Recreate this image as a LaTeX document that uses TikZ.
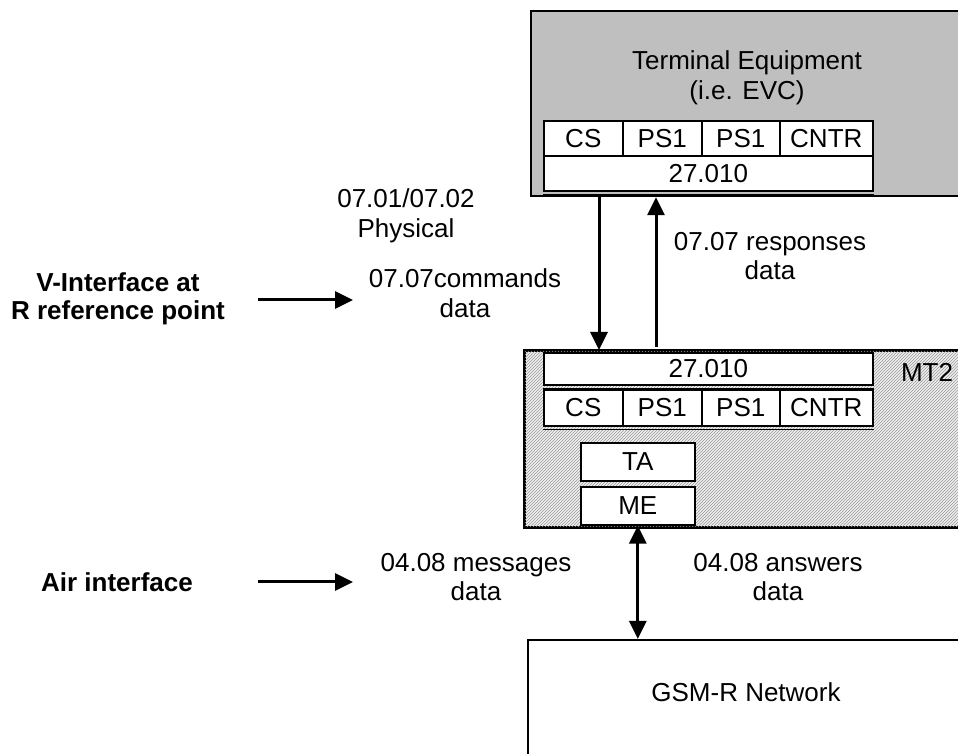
\documentclass[tikz,border=0pt]{standalone}
\usepackage{fontspec}
\setmainfont{Liberation Sans}
\usetikzlibrary{arrows.meta,patterns}
\begin{document}
\begin{tikzpicture}[x=1pt,y=1pt,
  every node/.style={font=\fontsize{26}{29.5}\selectfont},
  bigbox/.style={draw,line width=2.2pt,anchor=north west,inner sep=0pt},
  cell/.style={draw,line width=1.6pt,fill=white,anchor=north west,inner sep=0pt,minimum height=#1},
  cell/.default=35pt,
  lbl/.style={align=center,inner sep=0pt},
  blbl/.style={align=center,inner sep=0pt,font=\fontsize{26}{28}\selectfont\bfseries},
  arr/.style={line width=3pt,-{Triangle[length=18pt,width=17pt]}},
  darr/.style={line width=3pt,{Triangle[length=18pt,width=17pt]}-{Triangle[length=18pt,width=17pt]}},
  thinl/.style={line width=1pt}
]
\clip (0,0) rectangle (958,754);
\fill[white] (0,0) rectangle (958,754);

% Terminal Equipment
\node[bigbox,fill=black!25,minimum width=450pt,minimum height=185pt] (te) at (530,744) {};
\node[lbl] (tetxt) at (747,676) {Terminal Equipment\\(i.e. EVC)};
\node[cell,minimum width=79pt] (t1) at (543,634) {CS};
\node[cell,minimum width=79pt] (t2) at (622,634) {PS1};
\node[cell,minimum width=78pt] (t3) at (701,634) {PS1};
\node[cell,minimum width=93pt] (t4) at (779,634) {CNTR};
\node[cell,minimum width=329pt] (t27) at (543,599) {27.010};
\draw[thinl] ([yshift=-3pt]t27.south west) -- ([yshift=-3pt]t27.south east);

% MT2
\node[bigbox,fill=black!6,minimum width=450pt,minimum height=176pt] (mt) at (524,404) {};
\fill[pattern=north east lines,pattern color=black!40] (mt.north west) rectangle (mt.south east);
\draw[line width=2.2pt] (mt.north east) -- (mt.north west) -- (mt.south west) -- (mt.south east);
\node[lbl] (mtl) at (927,382) {MT2};
\node[cell=32pt,minimum width=329pt] (m27) at (543,402) {27.010};
\draw[thinl] ([yshift=-3pt]m27.south west) -- ([yshift=-3pt]m27.south east);
\node[cell=36pt,minimum width=79pt] (m1) at (543,365) {CS};
\node[cell=36pt,minimum width=79pt] (m2) at (622,365) {PS1};
\node[cell=36pt,minimum width=78pt] (m3) at (701,365) {PS1};
\node[cell=36pt,minimum width=93pt] (m4) at (779,365) {CNTR};
\draw[thinl] ([yshift=-3pt]m1.south west) -- ([yshift=-3pt]m4.south east);
\node[cell=38pt,minimum width=114pt] (ta) at (580,312) {TA};
\node[cell=38pt,minimum width=114pt] (me) at (580,268) {ME};

% GSM-R
\node[bigbox,fill=white,minimum width=450pt,minimum height=130pt] (gsm) at (527,115) {};
\node[lbl] (gsmtxt) at (746,62) {GSM-R Network};

% vertical connectors
\coordinate (xd) at (599,0);
\coordinate (xu) at (656,0);
\draw[arr] (te.south -| xd) -- (mt.north -| xd);
\draw[arr] ([yshift=3pt]mt.north -| xu) -- (te.south -| xu);
\draw[darr] (me.south) -- (gsm.north -| me.south);

% labels
\node[lbl] (l1) at (406,538) {07.01/07.02\\Physical};
\node[lbl] (l2) at (465,461) {07.07commands\\data};
\node[lbl] (l3) at (770,498) {07.07 responses\\data};
\node[lbl] (l4) at (476,177) {04.08 messages\\data};
\node[lbl] (l5) at (778,177) {04.08 answers\\data};

\node[blbl] (vi) at (118,455) {V-Interface at\\R reference point};
\node[blbl] (ai) at (117,172) {Air interface};

\coordinate (va) at (258,454);
\coordinate (vb) at (353,454);
\coordinate (aa) at (258,172);
\coordinate (ab) at (353,172);
\draw[arr] (va) -- (vb);
\draw[arr] (aa) -- (ab);
\end{tikzpicture}
\end{document}
